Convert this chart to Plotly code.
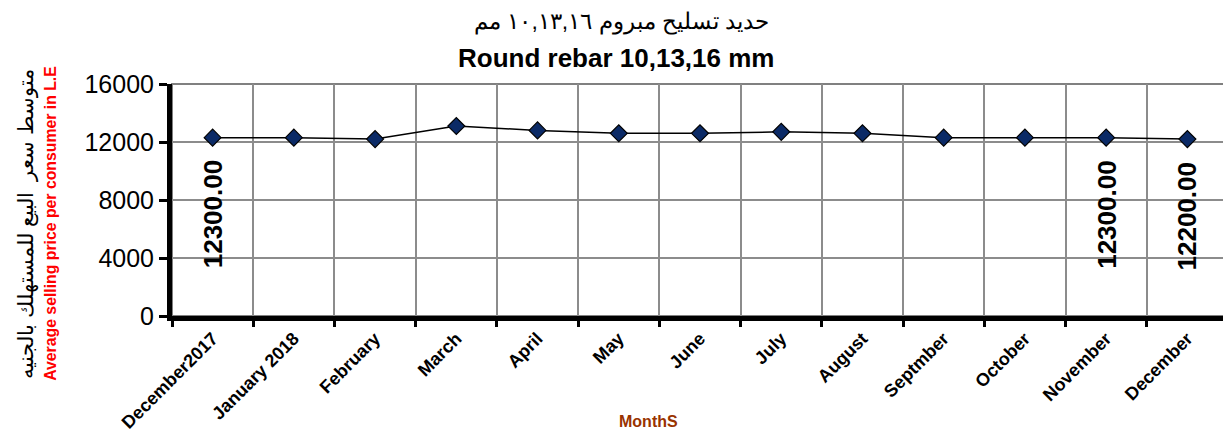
import plotly.graph_objects as go

months = ["December2017", "January 2018", "February", "March", "April", "May",
          "June", "July", "August", "Septmber", "October", "November", "December"]
prices = [12300, 12300, 12200, 13100, 12800, 12600, 12600, 12700, 12600,
          12300, 12300, 12300, 12200]
labeled_idx = [0, 11, 12]
y_ticks = [0, 4000, 8000, 12000, 16000]

title_ar = "حديد تسليح مبروم ١٠,١٣,١٦ مم"
title_en = "Round rebar 10,13,16 mm"
ytitle_ar = "متوسط سعر  البيع للمستهلك بالجنيه"
ytitle_en = "Average selling price per consumer in L.E"
xtitle = "MonthS"

# plot area in page pixels (page body has an 8px margin)
PL, PR, PT, PB = 172, 1228, 84, 318
PW, PH = PR - PL, PB - PT

def px(x):
    return (x - PL) / PW

def py(y):
    return (PB - y) / PH

fig = go.Figure()
fig.add_trace(go.Scatter(
    x=months, y=prices, mode="lines+markers",
    line=dict(color="black", width=1.5),
    marker=dict(symbol="diamond", size=13, color="#0b2a66",
                line=dict(color="black", width=1.2)),
    cliponaxis=False, showlegend=False,
))

for i in labeled_idx:
    fig.add_annotation(
        x=months[i], y=prices[i], xref="x", yref="y",
        text="<b>%.2f</b>" % prices[i], textangle=-90, showarrow=False,
        yanchor="top", yshift=-21,
        font=dict(family="Arial", size=26, color="black"),
    )

fig.add_annotation(text=title_ar, xref="paper", yref="paper", x=px(621), y=py(21),
                   showarrow=False, xanchor="center", yanchor="middle",
                   font=dict(family="Arial", size=23, color="black"))
fig.add_annotation(text="<b>" + title_en + "</b>", xref="paper", yref="paper",
                   x=px(616), y=py(58), showarrow=False, xanchor="center",
                   yanchor="middle",
                   font=dict(family="Arial", size=26, color="black"))
fig.add_annotation(text=ytitle_ar, xref="paper", yref="paper",
                   x=px(27), y=py(226), textangle=-90,
                   showarrow=False, xanchor="center", yanchor="middle",
                   font=dict(family="Arial", size=20.5, color="black"))
fig.add_annotation(text="<b>" + ytitle_en + "</b>", xref="paper", yref="paper",
                   x=px(51), y=py(225), textangle=-90,
                   showarrow=False, xanchor="center", yanchor="middle",
                   font=dict(family="Arial", size=15.8, color="#ff0000"))
fig.add_annotation(text="<b>" + xtitle + "</b>", xref="paper", yref="paper",
                   x=px(648), y=py(424), showarrow=False,
                   xanchor="center", yanchor="middle",
                   font=dict(family="Arial", size=16, color="#993300"))

fig.add_shape(type="rect", xref="paper", yref="paper", x0=0, x1=1, y0=0, y1=1,
              line=dict(color="#808080", width=2), layer="below")

fig.update_xaxes(
    type="category", tickson="boundaries", showgrid=True, gridcolor="#8c8c8c",
    gridwidth=2, showline=True, linecolor="black", linewidth=5,
    ticks="outside", ticklen=6, tickwidth=3, tickcolor="black",
    tickangle=-45, tickfont=dict(family="Arial", size=18, color="black", weight="bold"),
    range=[-0.5, 12.5],
)
fig.update_yaxes(
    range=[0, 16000], tickvals=y_ticks, tickformat="d", showgrid=True,
    gridcolor="#8c8c8c", gridwidth=2, showline=True, linecolor="black",
    linewidth=5, ticks="outside", ticklen=8, tickwidth=3, tickcolor="black",
    tickfont=dict(family="Arial", size=25, color="black"), zeroline=False,
)
fig.update_layout(
    width=1223, height=428, plot_bgcolor="white", paper_bgcolor="white",
    margin=dict(l=PL - 8, r=1231 - PR, t=PT - 8, b=436 - PB),
)
fig.write_html("out.html")
